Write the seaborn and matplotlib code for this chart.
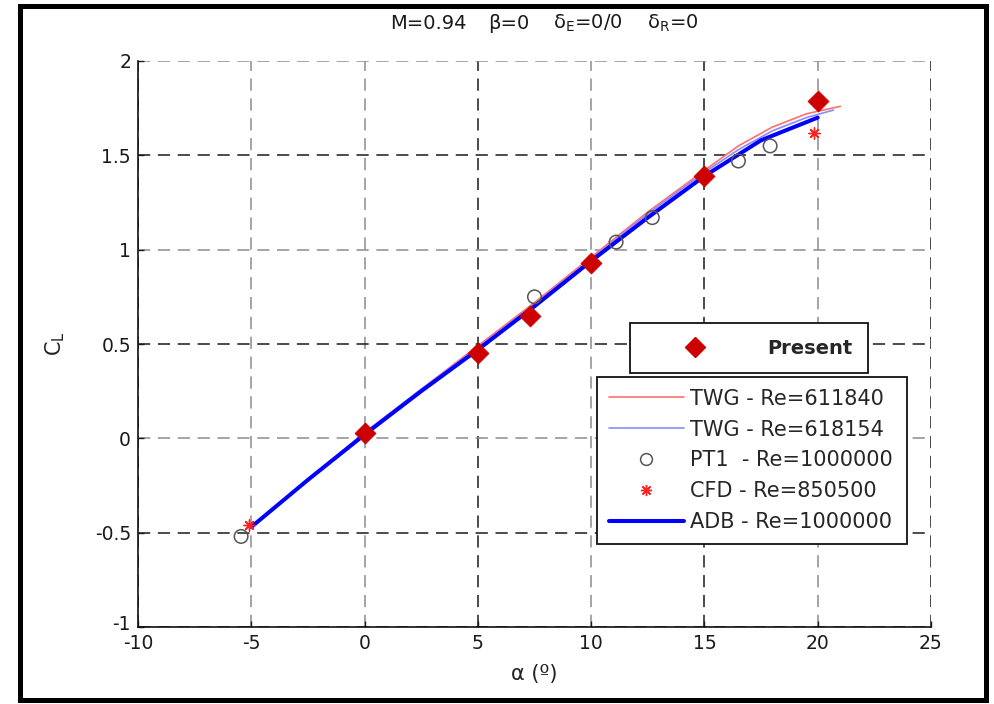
import matplotlib
matplotlib.use("Agg")
import matplotlib.pyplot as plt
import matplotlib.transforms as mtransforms
import seaborn as sns
from matplotlib.lines import Line2D
from matplotlib.patches import Rectangle

# Lift coefficient C_L versus angle of attack alpha (deg)
present_alpha = [0.0, 5.0, 7.3, 10.0, 15.0, 20.0]
present_cl = [0.03, 0.45, 0.65, 0.93, 1.39, 1.79]

twg1_alpha = [-4.8, -2.5, 0.0, 2.5, 5.0, 7.5, 10.0, 12.5, 15.0, 16.5, 18.0, 19.5, 21.0]
twg1_cl = [-0.45, -0.22, 0.03, 0.26, 0.49, 0.72, 0.96, 1.20, 1.42, 1.55, 1.65, 1.72, 1.76]

twg2_alpha = [-4.8, -2.5, 0.0, 2.5, 5.0, 7.5, 10.0, 12.5, 15.0, 16.5, 18.0, 19.5, 20.7]
twg2_cl = [-0.45, -0.22, 0.03, 0.26, 0.48, 0.71, 0.95, 1.19, 1.41, 1.53, 1.63, 1.70, 1.74]

pt1_alpha = [-5.45, 7.5, 11.1, 12.7, 16.5, 17.9]
pt1_cl = [-0.52, 0.75, 1.04, 1.17, 1.47, 1.55]

cfd_alpha = [-5.1, 19.85]
cfd_cl = [-0.46, 1.62]

adb_alpha = [-5.0, -2.5, 0.0, 2.5, 5.0, 7.5, 10.0, 12.5, 15.0, 17.5, 20.0]
adb_cl = [-0.47, -0.22, 0.02, 0.25, 0.47, 0.70, 0.94, 1.17, 1.39, 1.58, 1.70]

x_ticks = [-10, -5, 0, 5, 10, 15, 20, 25]
y_ticks = [-1, -0.5, 0, 0.5, 1, 1.5, 2]
x_tick_labels = ["-10", "-5", "0", "5", "10", "15", "20", "25"]
y_tick_labels = ["-1", "-0.5", "0", "0.5", "1", "1.5", "2"]

title_parts = ["M=0.94", "\u03b2=0", "\u03b4$_\\mathregular{E}$=0/0",
               "\u03b4$_\\mathregular{R}$=0"]

labels = {
    "twg1": "TWG - Re=611840",
    "twg2": "TWG - Re=618154",
    "pt1": "PT1  - Re=1000000",
    "cfd": "CFD - Re=850500",
    "adb": "ADB - Re=1000000",
    "present": "Present",
}

sns.set_theme(style="white")
plt.rcParams["font.family"] = ["DejaVu Sans"]

W, H = 994, 704
fig = plt.figure(figsize=(W / 100, H / 100), dpi=100)
ax = fig.add_axes([138 / W, 1 - 627 / H, (931 - 138) / W, (627 - 61) / H])

red_light = "#ff6f6f"
blue_light = "#8a8aff"
asterisk = (8, 2, 0)

sns.lineplot(x=twg1_alpha, y=twg1_cl, ax=ax, color=red_light, lw=1.2,
             sort=False, estimator=None, zorder=3)
sns.lineplot(x=twg2_alpha, y=twg2_cl, ax=ax, color=blue_light, lw=1.2,
             sort=False, estimator=None, zorder=3)
sns.lineplot(x=adb_alpha, y=adb_cl, ax=ax, color="#0000ff", lw=2.9,
             sort=False, estimator=None, zorder=4)
sns.scatterplot(x=pt1_alpha, y=pt1_cl, ax=ax, marker="o", s=95,
                facecolor="none", edgecolor="#555555", linewidth=1.1, zorder=5)
sns.scatterplot(x=cfd_alpha, y=cfd_cl, ax=ax, marker=asterisk, s=65,
                color="#ff2020", linewidth=1.0, zorder=5)
sns.scatterplot(x=present_alpha, y=present_cl, ax=ax, marker="D", s=115,
                color="#cc0000", edgecolor="#cc0000", linewidth=0.5, zorder=6)

ax.set_xlim(-10, 25)
ax.set_ylim(-1, 2)
ax.set_xticks(x_ticks)
ax.set_xticklabels(x_tick_labels)
ax.set_yticks(y_ticks)
ax.set_yticklabels(y_tick_labels)
ax.tick_params(axis="both", direction="in", length=4, width=1.0,
               labelsize=13.5, colors="#1a1a1a", pad=5,
               bottom=True, left=True, top=False, right=False)
for side in ("top", "right"):
    ax.spines[side].set_visible(False)
for side in ("left", "bottom"):
    ax.spines[side].set_color("#111111")
    ax.spines[side].set_linewidth(1.2)

# Lift the lowest y label a little so it clears the first x label
low_label = ax.get_yticklabels()[0]
low_label.set_transform(low_label.get_transform() +
                        mtransforms.ScaledTranslation(0, 4 / 100,
                                                      fig.dpi_scale_trans))

ax.grid(True, linestyle=(0, (8, 5)), linewidth=1.1)
x_grid_colors = ["#1a1a1a", "#8c8c8c", "#8c8c8c", "#1a1a1a", "#8c8c8c",
                 "#1a1a1a", "#8c8c8c", "#1a1a1a"]
y_grid_colors = ["#1a1a1a", "#1a1a1a", "#8c8c8c", "#1a1a1a", "#8c8c8c",
                 "#1a1a1a", "#8c8c8c"]
for gl, c in zip(ax.xaxis.get_gridlines(), x_grid_colors):
    gl.set_color(c)
for gl, c in zip(ax.yaxis.get_gridlines(), y_grid_colors):
    gl.set_color(c)
ax.set_axisbelow(True)

ax.set_xlabel("\u03b1 (\u00ba)", fontsize=15, color="#222222", labelpad=8)
ax.set_ylabel("C$_\\mathregular{L}$", fontsize=15, color="#222222", labelpad=20)

# Flight condition header, one item per group
for txt, xpix in zip(title_parts, [390, 488, 553, 647]):
    fig.text(xpix / W, 1 - 29 / H, txt, ha="left", va="baseline",
             fontsize=14, color="#1a1a1a")

# Legend for the present results
h_present = Line2D([], [], linestyle="none", marker="D", markersize=10.5,
                   color="#cc0000")
leg1 = ax.legend([h_present], [labels["present"]],
                 loc="upper left",
                 bbox_to_anchor=((630 - 138) / 793, (627 - 323) / 566,
                                 (868 - 630) / 793, 0.0),
                 mode="expand", borderaxespad=0,
                 prop={"weight": "bold", "size": 14},
                 handlelength=5.1, handletextpad=1.15, borderpad=0.8,
                 frameon=True, fancybox=False, edgecolor="#111111",
                 framealpha=1.0)
leg1.get_frame().set_linewidth(1.3)
ax.add_artist(leg1)

# Legend for the reference data sets
handles = [
    Line2D([], [], color=red_light, lw=1.2),
    Line2D([], [], color=blue_light, lw=1.2),
    Line2D([], [], linestyle="none", marker="o", markersize=8.5,
           markerfacecolor="none", markeredgecolor="#555555",
           markeredgewidth=1.1),
    Line2D([], [], linestyle="none", marker=asterisk, markersize=8,
           color="#ff2020", markeredgewidth=1.0),
    Line2D([], [], color="#0000ff", lw=2.9),
]
names = [labels["twg1"], labels["twg2"], labels["pt1"], labels["cfd"],
         labels["adb"]]
leg2 = ax.legend(handles, names, loc="upper left",
                 bbox_to_anchor=((597 - 138) / 793, (627 - 377) / 566,
                                 (907 - 597) / 793, 0.0),
                 mode="expand", borderaxespad=0, fontsize=15,
                 handlelength=3.6, handletextpad=0.3, borderpad=0.56,
                 labelspacing=0.52, frameon=True, fancybox=False,
                 edgecolor="#111111", framealpha=1.0)
leg2.get_frame().set_linewidth(1.3)

# Outer frame around the whole figure
fig.add_artist(Rectangle((19.5 / W, 1 - 699.5 / H), (985.5 - 19.5) / W,
                         (699.5 - 5.8) / H, transform=fig.transFigure,
                         fill=False, edgecolor="#000000", linewidth=3.6))

fig.savefig("out.png", dpi=100)
